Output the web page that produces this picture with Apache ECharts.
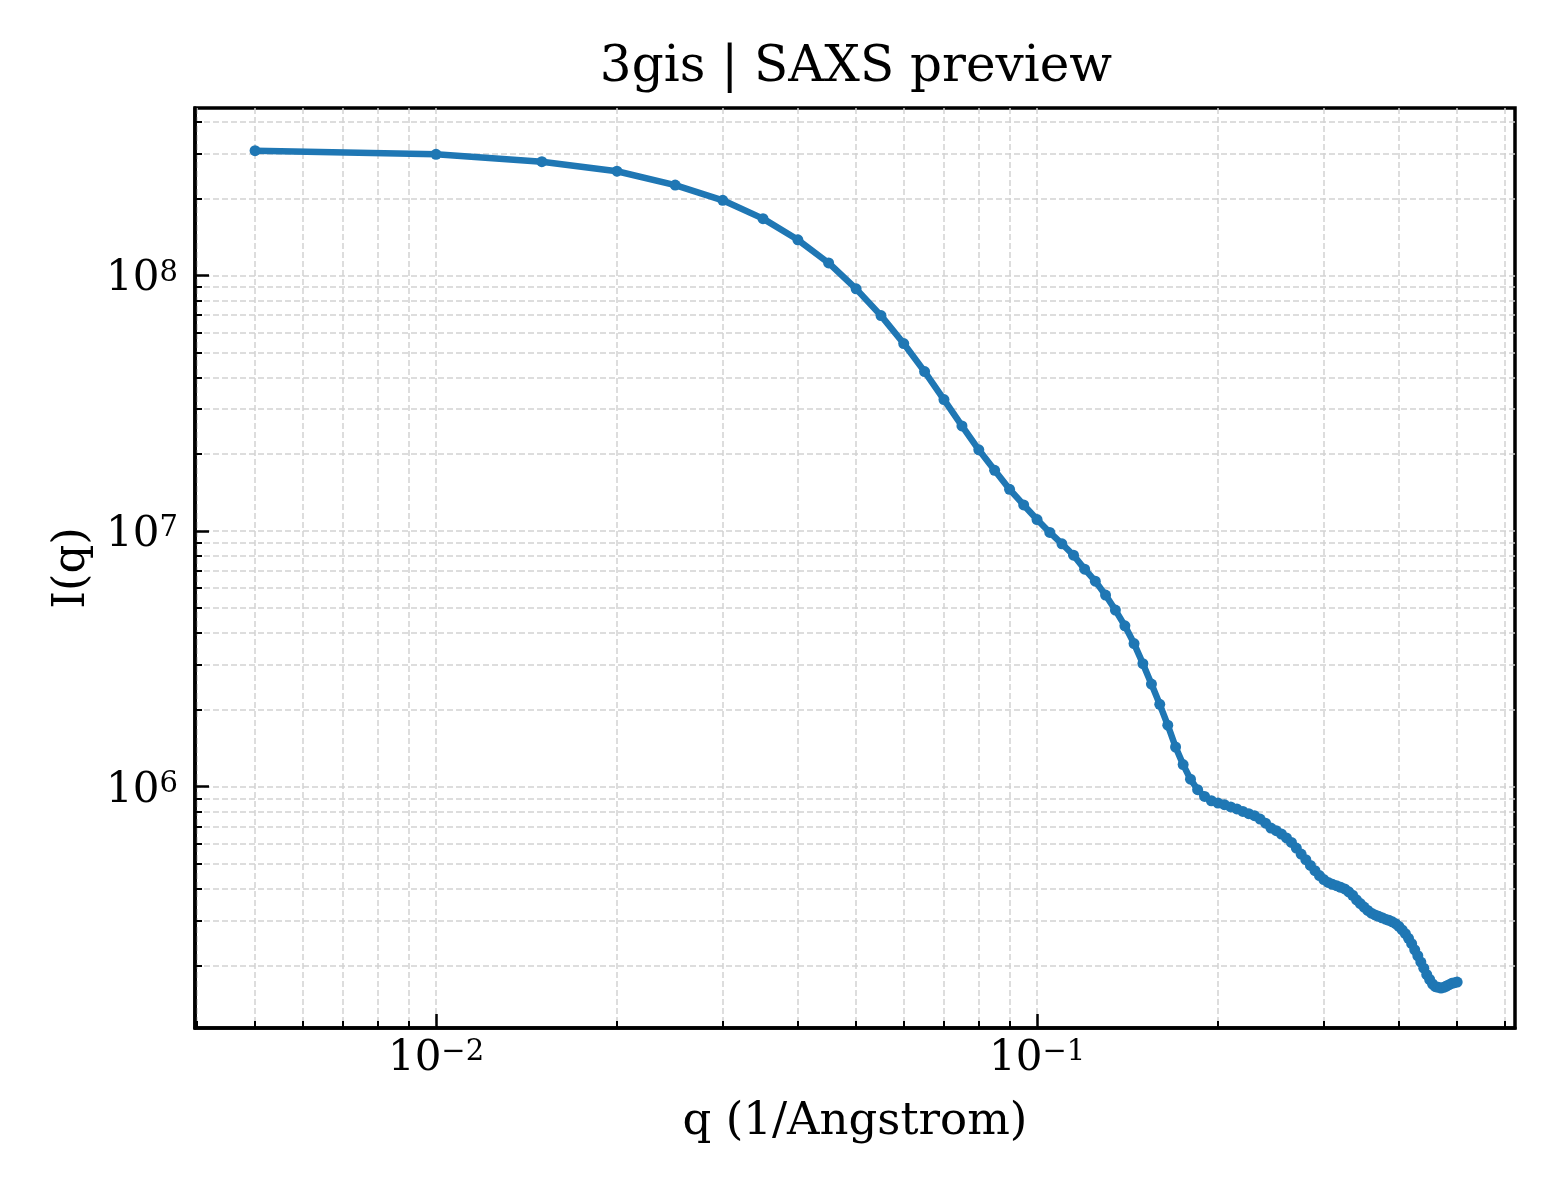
<!DOCTYPE html>
<html>
<head>
<meta charset="utf-8">
<script src="https://cdn.jsdelivr.net/npm/echarts@6/dist/echarts.min.js"></script>
<style>
html,body{margin:0;padding:0;background:#ffffff;}
#chart{width:1560px;height:1200px;}
</style>
</head>
<body>
<div id="chart"></div>
<script>
// ---------------- data ----------------
const qValues = [
  0.005, 0.010, 0.015, 0.020, 0.025, 0.030, 0.035, 0.040, 0.045, 0.050,
  0.055, 0.060, 0.065, 0.070, 0.075, 0.080, 0.085, 0.090, 0.095, 0.100,
  0.105, 0.110, 0.115, 0.120, 0.125, 0.130, 0.135, 0.140, 0.145, 0.150,
  0.155, 0.160, 0.165, 0.170, 0.175, 0.180, 0.185, 0.190, 0.195, 0.200,
  0.205, 0.210, 0.215, 0.220, 0.225, 0.230, 0.235, 0.240, 0.245, 0.250,
  0.255, 0.260, 0.265, 0.270, 0.275, 0.280, 0.285, 0.290, 0.295, 0.300,
  0.305, 0.310, 0.315, 0.320, 0.325, 0.330, 0.335, 0.340, 0.345, 0.350,
  0.355, 0.360, 0.365, 0.370, 0.375, 0.380, 0.385, 0.390, 0.395, 0.400,
  0.405, 0.410, 0.415, 0.420, 0.425, 0.430, 0.435, 0.440, 0.445, 0.450,
  0.455, 0.460, 0.465, 0.470, 0.475, 0.480, 0.485, 0.490, 0.495, 0.500
];
const intensity = [
  3.08e8, 2.98e8, 2.79e8, 2.56e8, 2.26e8, 1.97e8, 1.67e8, 1.38e8, 1.12e8, 8.87e7,
  6.97e7, 5.42e7, 4.21e7, 3.27e7, 2.58e7, 2.08e7, 1.73e7, 1.458e7, 1.266e7, 1.11e7,
  9.88e6, 8.92e6, 8.05e6, 7.10e6, 6.37e6, 5.62e6, 4.91e6, 4.26e6, 3.63e6, 3.03e6,
  2.52e6, 2.10e6, 1.74e6, 1.43e6, 1.22e6, 1.07e6, 9.73e5, 9.16e5, 8.81e5, 8.63e5,
  8.50e5, 8.33e5, 8.18e5, 8.00e5, 7.84e5, 7.70e5, 7.47e5, 7.20e5, 6.89e5, 6.73e5,
  6.53e5, 6.30e5, 6.05e5, 5.75e5, 5.45e5, 5.18e5, 4.92e5, 4.69e5, 4.49e5, 4.33e5,
  4.22e5, 4.15e5, 4.10e5, 4.04e5, 3.98e5, 3.88e5, 3.76e5, 3.61e5, 3.49e5, 3.38e5,
  3.28e5, 3.20e5, 3.15e5, 3.11e5, 3.07e5, 3.03e5, 3.00e5, 2.96e5, 2.91e5, 2.84e5,
  2.75e5, 2.66e5, 2.55e5, 2.43e5, 2.30e5, 2.18e5, 2.06e5, 1.95e5, 1.84e5, 1.76e5,
  1.69e5, 1.65e5, 1.64e5, 1.63e5, 1.64e5, 1.66e5, 1.68e5, 1.70e5, 1.71e5, 1.72e5
];
const xMajorTicks = [0.01, 0.1];
const xMinorTicks = [0.004, 0.005, 0.006, 0.007, 0.008, 0.009,
                     0.02, 0.03, 0.04, 0.05, 0.06, 0.07, 0.08, 0.09,
                     0.2, 0.3, 0.4, 0.5, 0.6];
const yMajorTicks = [1e6, 1e7, 1e8];
const yMinorTicks = [2e5, 3e5, 4e5, 5e5, 6e5, 7e5, 8e5, 9e5,
                     2e6, 3e6, 4e6, 5e6, 6e6, 7e6, 8e6, 9e6,
                     2e7, 3e7, 4e7, 5e7, 6e7, 7e7, 8e7, 9e7,
                     2e8, 3e8, 4e8];
const xRange = [0.003972, 0.624];
const yRange = [1.137e5, 4.525e8];
const titleText = '3gis | SAXS preview';
const xAxisName = 'q (1/Angstrom)';
const yAxisName = 'I(q)';

// ---------------- chart ----------------
const FONT = 'DejaVu Serif';
const seriesData = qValues.map((q, i) => [q, intensity[i]]);

function powLabel(v) {
  const e = Math.round(Math.log10(v));
  const s = e < 0 ? '\u2212' + (-e) : String(e);
  return '{b|10}{s|' + s + '}';
}
const richStyle = {
  b: { fontFamily: FONT, fontSize: 42, lineHeight: 42, color: '#000' },
  s: { fontFamily: FONT, fontSize: 29, lineHeight: 28, verticalAlign: 'top', color: '#000' }
};
const gridLine = { show: true, lineStyle: { color: '#d2d2d2', width: 1.5, type: [6, 3] } };

function majorAxis(isX) {
  const ticks = isX ? xMajorTicks : yMajorTicks;
  const r = isX ? xRange : yRange;
  return {
    type: 'log', logBase: 10, min: r[0], max: r[1],
    position: isX ? 'bottom' : 'left',
    gridIndex: 0,
    axisLine: { show: true, lineStyle: { color: '#000', width: 3.5 } },
    axisTick: { show: true, inside: true, length: 14, customValues: ticks,
                lineStyle: { color: '#000', width: 2.5 } },
    axisLabel: { show: true, customValues: ticks, margin: isX ? 10 : 17,
                 formatter: powLabel, rich: richStyle, color: '#000',
                 padding: isX ? 0 : [8, 0, 0, 0] },
    splitLine: gridLine,
    minorTick: { show: false }, minorSplitLine: { show: false },
    name: isX ? xAxisName : yAxisName,
    nameLocation: 'middle',
    nameGap: isX ? 72 : 98,
    nameTextStyle: { fontFamily: FONT, fontSize: 45, color: '#000' },
    z: 3
  };
}
function minorAxis(isX) {
  const ticks = isX ? xMinorTicks : yMinorTicks;
  const r = isX ? xRange : yRange;
  return {
    type: 'log', logBase: 10, min: r[0], max: r[1],
    position: isX ? 'bottom' : 'left',
    gridIndex: 0,
    axisLine: { show: false },
    axisTick: { show: true, inside: true, length: 7, customValues: ticks,
                lineStyle: { color: '#000', width: 2 } },
    axisLabel: { show: false },
    splitLine: gridLine,
    minorTick: { show: false }, minorSplitLine: { show: false },
    z: 2
  };
}

const chart = echarts.init(document.getElementById('chart'), null, { renderer: 'canvas' });
chart.setOption({
  backgroundColor: '#ffffff',
  animation: false,
  title: {
    text: titleText,
    left: 851, top: 38, textAlign: 'center',
    textStyle: { fontFamily: FONT, fontSize: 50, fontWeight: 'normal', color: '#000' }
  },
  grid: {
    left: 195, right: 45, top: 108, bottom: 172,
    show: true, borderColor: '#000', borderWidth: 3.5, backgroundColor: 'transparent',
    containLabel: false, outerBoundsMode: 'none'
  },
  xAxis: [majorAxis(true), minorAxis(true)],
  yAxis: [majorAxis(false), minorAxis(false)],
  series: [{
    type: 'line',
    xAxisIndex: 0, yAxisIndex: 0,
    data: seriesData,
    smooth: false,
    symbol: 'circle',
    symbolSize: 11,
    showSymbol: true,
    lineStyle: { color: '#1f77b4', width: 6.5 },
    itemStyle: { color: '#1f77b4' },
    z: 5
  }]
});
</script>
</body>
</html>
